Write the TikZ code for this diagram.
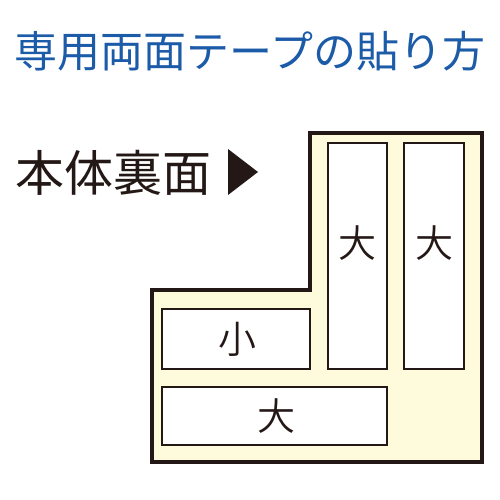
\documentclass[tikz,border=0pt]{standalone}
\usepackage{fontspec}
\setmainfont{Noto Sans CJK JP}
\newfontfamily\demif{Noto Sans CJK JP DemiLight}
\definecolor{ttlblue}{HTML}{1C5BA8}
\definecolor{ink}{HTML}{231815}
\definecolor{cream}{HTML}{FEFADC}
\begin{document}
\begin{tikzpicture}[x=1pt,y=-1pt,
  tape/.style={draw=ink,line width=2.6pt,fill=white},
  lbl/.style={text=ink,font=\demif\fontsize{38}{38}\selectfont,inner sep=0pt}]
\useasboundingbox (0,0) rectangle (500,500);
\node[text=ttlblue,font=\fontsize{43}{43}\selectfont,inner sep=0pt] (title) at (250,51) {専用両面テープの貼り方};
\node[text=ink,font=\fontsize{49}{49}\selectfont,inner sep=0pt,anchor=west] (back) at (15,173) {本体裏面};
\fill[ink] (228,149) -- (258,172) -- (228,195) -- cycle;
\draw[draw=ink,fill=cream,line width=4pt] (152,462) -- (152,290) -- (310,290) -- (310,133) -- (482,133) -- (482,462) -- cycle;
\draw[tape] (328,143) rectangle (387,369);
\draw[tape] (404,143) rectangle (464,369);
\draw[tape] (162,309) rectangle (310,369);
\draw[tape] (162,387) rectangle (387,445);
\node[lbl] (t1) at (357.5,243) {大};
\node[lbl] (t2) at (434,243) {大};
\node[lbl] (t3) at (237,339) {小};
\node[lbl] (t4) at (276,416) {大};
\end{tikzpicture}
\end{document}
